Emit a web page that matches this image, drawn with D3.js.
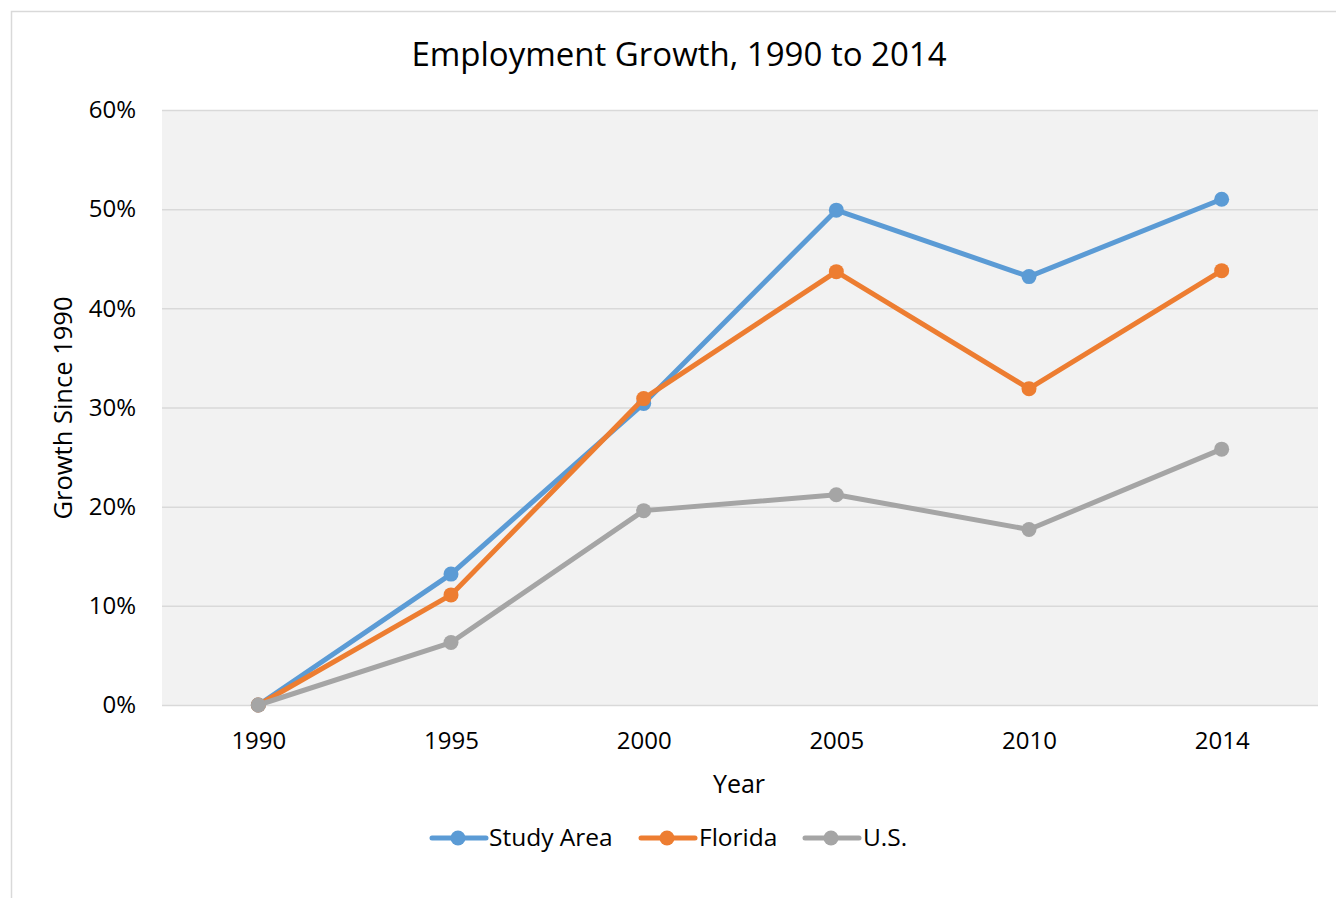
<!DOCTYPE html>
<html><head><meta charset="utf-8">
<script src="https://cdn.jsdelivr.net/npm/d3@7"></script>
<style>body{margin:0;background:#fff;} svg{display:block;}</style>
</head><body>
<svg id="chart" width="1336" height="898"></svg>
<script>
const years = ["1990","1995","2000","2005","2010","2014"];
const studyArea = [0, 13.2, 30.4, 49.9, 43.2, 51.0];
const florida = [0, 11.1, 30.9, 43.7, 31.9, 43.8];
const us = [0, 6.3, 19.6, 21.2, 17.7, 25.8];
const yTicks = [0, 10, 20, 30, 40, 50, 60];
const seriesNames = ["Study Area", "Florida", "U.S."];
const colors = ["#5b9bd5", "#ed7d31", "#a5a5a5"];

const font = "'Open Sans', sans-serif";
const svg = d3.select("#chart");
svg.append("rect").attr("x",11.5).attr("y",11.5).attr("width",1400).attr("height",1000)
  .attr("fill","#fff").attr("stroke","#d9d9d9").attr("stroke-width",1.5);

const L=162, R=1318, T=110, B=705;
svg.append("rect").attr("x",L).attr("y",T).attr("width",R-L).attr("height",B-T).attr("fill","#f2f2f2");

const x = d3.scalePoint().domain(years).range([L,R]).padding(0.5);
const y = d3.scaleLinear().domain([0,60]).range([B,T]);

const yAxis = d3.axisLeft(y).tickValues(yTicks).tickSize(-(R-L)).tickFormat(d=>d+"%").tickPadding(26);
const gy = svg.append("g").attr("transform",`translate(${L},0)`).call(yAxis);
gy.select(".domain").remove();
gy.selectAll(".tick line").attr("stroke","#d9d9d9").attr("stroke-width",1.5);
gy.selectAll(".tick text").attr("font-family",font).attr("font-size",24).attr("fill","#000");

const xAxis = d3.axisBottom(x).tickSize(0).tickPadding(27);
const gx = svg.append("g").attr("transform",`translate(0,${B})`).call(xAxis);
gx.select(".domain").remove();
gx.selectAll(".tick text").attr("font-family",font).attr("font-size",24).attr("fill","#000");

svg.append("text").attr("x",679).attr("y",66).attr("text-anchor","middle")
  .attr("font-family",font).attr("font-size",33).attr("fill","#000").text("Employment Growth, 1990 to 2014");
svg.append("text").attr("x",739).attr("y",793).attr("text-anchor","middle")
  .attr("font-family",font).attr("font-size",25).attr("fill","#000").text("Year");
svg.append("text").attr("transform","translate(72,408) rotate(-90)").attr("text-anchor","middle")
  .attr("font-family",font).attr("font-size",25.5).attr("fill","#000").text("Growth Since 1990");

const data = [studyArea, florida, us];
const line = d3.line().x((d,i)=>x(years[i])).y(d=>y(d));
[0,1,2].forEach(k=>{
  const g = svg.append("g");
  g.append("path").attr("d",line(data[k])).attr("fill","none").attr("stroke",colors[k])
    .attr("stroke-width",5).attr("stroke-linejoin","round").attr("stroke-linecap","round");
  g.selectAll("circle").data(data[k]).join("circle")
    .attr("cx",(d,i)=>x(years[i])).attr("cy",d=>y(d)).attr("r",7.5).attr("fill",colors[k]);
});

const legendItems = [{x0:432, tx:489},{x0:641, tx:699},{x0:805, tx:863}];
const ly = 838;
legendItems.forEach((it,k)=>{
  svg.append("line").attr("x1",it.x0).attr("x2",it.x0+54).attr("y1",ly).attr("y2",ly)
    .attr("stroke",colors[k]).attr("stroke-width",5).attr("stroke-linecap","round");
  svg.append("circle").attr("cx",it.x0+26).attr("cy",ly).attr("r",7.5).attr("fill",colors[k]);
  svg.append("text").attr("x",it.tx).attr("y",ly+8).attr("font-family",font).attr("font-size",24.5)
    .attr("fill","#000").text(seriesNames[k]);
});
</script>
</body></html>
